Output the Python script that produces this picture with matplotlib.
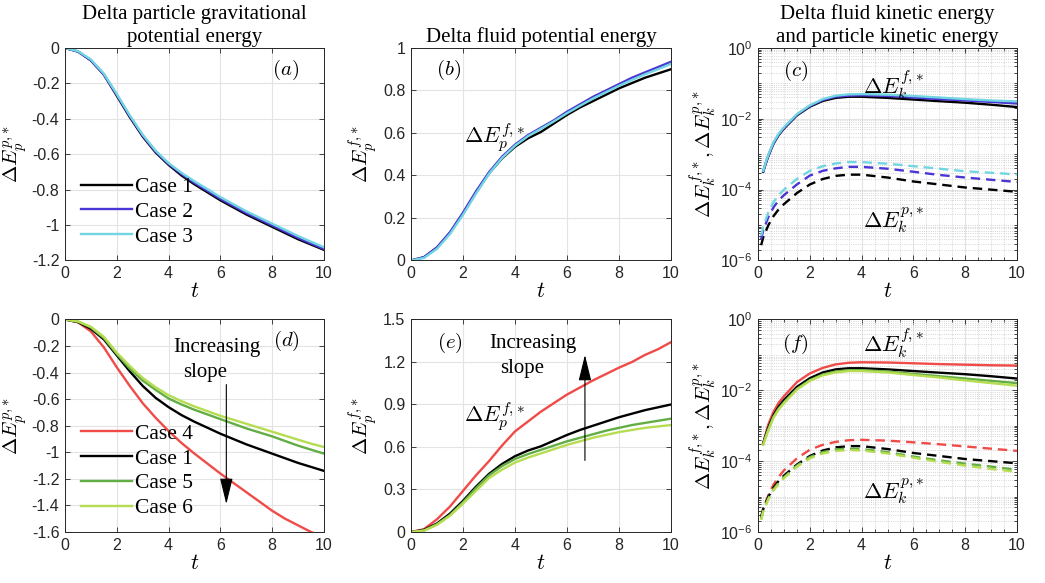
import matplotlib
matplotlib.use('Agg')
import matplotlib.pyplot as plt
from matplotlib.ticker import FixedLocator, MultipleLocator, LogLocator, FuncFormatter, NullFormatter
import numpy as np

plt.rcParams['mathtext.fontset'] = 'cm'
plt.rcParams['axes.unicode_minus'] = False

# ---- dados ----
t = [0, 0.5, 1, 1.5, 2, 2.5, 3, 3.5, 4, 4.5, 5, 5.5, 6, 6.5, 7, 7.5, 8, 8.5, 9, 9.5, 10]

# energia potencial gravitacional das particulas
ep_case1 = [0, -0.02, -0.07, -0.15, -0.27, -0.39, -0.50, -0.59, -0.66, -0.72, -0.77, -0.815,
            -0.86, -0.90, -0.94, -0.975, -1.01, -1.045, -1.08, -1.11, -1.14]
ep_case2 = [0, -0.02, -0.07, -0.15, -0.265, -0.385, -0.495, -0.585, -0.655, -0.712, -0.762, -0.807,
            -0.852, -0.892, -0.932, -0.967, -1.002, -1.037, -1.072, -1.104, -1.135]
ep_case3 = [0, -0.018, -0.065, -0.145, -0.26, -0.38, -0.49, -0.58, -0.65, -0.705, -0.753, -0.797,
            -0.842, -0.882, -0.922, -0.957, -0.992, -1.027, -1.062, -1.094, -1.125]
ep_case4 = [0, -0.02, -0.09, -0.21, -0.36, -0.50, -0.63, -0.74, -0.84, -0.93, -1.01, -1.085,
            -1.16, -1.23, -1.30, -1.37, -1.44, -1.50, -1.55, -1.60, -1.64]
ep_case5 = [0, -0.015, -0.06, -0.14, -0.26, -0.37, -0.46, -0.53, -0.595, -0.64, -0.68, -0.715,
            -0.75, -0.785, -0.82, -0.85, -0.88, -0.915, -0.95, -0.98, -1.01]
ep_case6 = [0, -0.015, -0.055, -0.13, -0.25, -0.35, -0.44, -0.51, -0.57, -0.615, -0.655, -0.69,
            -0.725, -0.755, -0.785, -0.815, -0.845, -0.875, -0.905, -0.935, -0.96]

# energia potencial do fluido
ef_case1 = [0, 0.015, 0.06, 0.13, 0.22, 0.32, 0.41, 0.48, 0.535, 0.575, 0.605, 0.645,
            0.685, 0.72, 0.75, 0.78, 0.81, 0.835, 0.86, 0.88, 0.90]
ef_case2 = [0, 0.016, 0.062, 0.133, 0.225, 0.325, 0.415, 0.488, 0.545, 0.59, 0.625, 0.66,
            0.70, 0.735, 0.77, 0.80, 0.83, 0.86, 0.885, 0.91, 0.935]
ef_case3 = [0, 0.012, 0.055, 0.125, 0.215, 0.315, 0.408, 0.482, 0.54, 0.585, 0.62, 0.655,
            0.693, 0.728, 0.762, 0.792, 0.822, 0.85, 0.876, 0.90, 0.925]
ef_case4 = [0, 0.02, 0.09, 0.18, 0.29, 0.40, 0.50, 0.61, 0.71, 0.78, 0.85, 0.91,
            0.97, 1.02, 1.07, 1.115, 1.16, 1.20, 1.25, 1.29, 1.34]
ef_case5 = [0, 0.01, 0.055, 0.12, 0.21, 0.31, 0.40, 0.465, 0.515, 0.55, 0.58, 0.61,
            0.64, 0.665, 0.69, 0.715, 0.735, 0.755, 0.77, 0.785, 0.80]
ef_case6 = [0, 0.01, 0.05, 0.115, 0.20, 0.29, 0.38, 0.44, 0.49, 0.525, 0.555, 0.585,
            0.615, 0.64, 0.665, 0.685, 0.705, 0.72, 0.735, 0.745, 0.755]

# energia cinetica (fluido: linha cheia, particula: tracejada)
tk_f = [0.2, 0.3, 0.4, 0.6, 0.8, 1, 1.5, 2, 2.5, 3, 3.5, 4, 5, 6, 7, 8, 9, 10]
tk_p = [0.12, 0.2, 0.4, 0.6, 0.8, 1, 1.5, 2, 2.5, 3, 3.5, 4, 5, 6, 7, 8, 9, 10]

ekf_case1 = [3.2e-4, 5.5e-4, 9e-4, 2e-3, 3.5e-3, 5.3e-3, 1.25e-2, 2.2e-2, 3.2e-2, 3.9e-2, 4.2e-2,
             4.2e-2, 3.9e-2, 3.5e-2, 3.15e-2, 2.85e-2, 2.5e-2, 2.15e-2]
ekf_case2 = [3.3e-4, 5.7e-4, 9.3e-4, 2.1e-3, 3.6e-3, 5.5e-3, 1.3e-2, 2.3e-2, 3.4e-2, 4.2e-2, 4.5e-2,
             4.6e-2, 4.4e-2, 4.0e-2, 3.6e-2, 3.3e-2, 3.0e-2, 2.7e-2]
ekf_case3 = [3.4e-4, 6e-4, 9.8e-4, 2.2e-3, 3.8e-3, 5.8e-3, 1.35e-2, 2.4e-2, 3.6e-2, 4.5e-2, 4.9e-2,
             5.0e-2, 4.8e-2, 4.4e-2, 4.0e-2, 3.6e-2, 3.3e-2, 3.1e-2]
ekf_case4 = [3.2e-4, 6e-4, 1.1e-3, 2.5e-3, 4.5e-3, 6.8e-3, 1.7e-2, 3.0e-2, 4.3e-2, 5.4e-2, 6.0e-2,
             6.2e-2, 6.1e-2, 5.8e-2, 5.5e-2, 5.3e-2, 5.1e-2, 5.0e-2]
ekf_case5 = [3e-4, 5e-4, 8e-4, 1.8e-3, 3.1e-3, 4.6e-3, 1.1e-2, 1.95e-2, 2.8e-2, 3.4e-2, 3.7e-2,
             3.7e-2, 3.4e-2, 2.9e-2, 2.5e-2, 2.15e-2, 1.85e-2, 1.6e-2]
ekf_case6 = [2.9e-4, 4.8e-4, 7.5e-4, 1.7e-3, 2.9e-3, 4.3e-3, 1.05e-2, 1.85e-2, 2.65e-2, 3.2e-2, 3.5e-2,
             3.5e-2, 3.2e-2, 2.7e-2, 2.3e-2, 1.9e-2, 1.6e-2, 1.35e-2]

ekp_case1 = [2.7e-6, 4.5e-6, 1e-5, 1.8e-5, 2.8e-5, 3.9e-5, 8e-5, 1.4e-4, 2.0e-4, 2.45e-4, 2.65e-4,
             2.65e-4, 2.2e-4, 1.7e-4, 1.4e-4, 1.15e-4, 1.0e-4, 8.7e-5]
ekp_case2 = [4e-6, 7e-6, 1.7e-5, 3.2e-5, 5e-5, 7e-5, 1.4e-4, 2.5e-4, 3.4e-4, 4e-4, 4.4e-4,
             4.4e-4, 3.9e-4, 3.2e-4, 2.6e-4, 2.2e-4, 1.9e-4, 1.65e-4]
ekp_case3 = [5e-6, 9e-6, 2.3e-5, 4.5e-5, 7e-5, 1e-4, 2e-4, 3.4e-4, 4.6e-4, 5.5e-4, 6e-4,
             6e-4, 5.4e-4, 4.6e-4, 3.9e-4, 3.3e-4, 3e-4, 2.7e-4]
ekp_case4 = [2.5e-6, 4.5e-6, 1.1e-5, 2.2e-5, 3.6e-5, 5.5e-5, 1.2e-4, 2.1e-4, 2.9e-4, 3.5e-4, 3.9e-4,
             4.0e-4, 3.8e-4, 3.4e-4, 3.0e-4, 2.6e-4, 2.25e-4, 1.95e-4]
ekp_case5 = [2.3e-6, 4e-6, 9e-6, 1.6e-5, 2.5e-5, 3.5e-5, 7.5e-5, 1.3e-4, 1.8e-4, 2.15e-4, 2.25e-4,
             2.2e-4, 1.8e-4, 1.35e-4, 1.05e-4, 8.5e-5, 7e-5, 5.7e-5]
ekp_case6 = [2.2e-6, 3.8e-6, 8.5e-6, 1.5e-5, 2.3e-5, 3.3e-5, 7e-5, 1.2e-4, 1.65e-4, 1.95e-4, 2.05e-4,
             2.0e-4, 1.65e-4, 1.25e-4, 9.5e-5, 7.5e-5, 6e-5, 5e-5]

cores = {1: 'black', 2: '#4a36d4', 3: '#72d5e2', 4: '#ef4b48', 5: '#63ae44', 6: '#b6dc52'}

LW = 1.7
SERIF = 'Liberation Serif'
SANS = 'Liberation Sans'
TXT = '#262626'

fig = plt.figure(figsize=(10.45, 5.83), dpi=100)

W = [0.0622, 0.3933, 0.7254]
larg = [0.2478, 0.2488, 0.2478]
B = [0.5532, 0.0875]
H = 0.3645

axes = {}
for r, linha in enumerate([['a', 'b', 'c'], ['d', 'e', 'f']]):
    for c, nome in enumerate(linha):
        axes[nome] = fig.add_axes([W[c], B[r], larg[c], H])


def estilo(ax, log=False):
    ax.set_xlim(0, 10)
    ax.xaxis.set_major_locator(MultipleLocator(2))
    ax.tick_params(direction='in', top=True, right=True, length=3.5, width=0.6,
                   labelsize=11.5, colors=TXT, pad=4)
    for lab in ax.get_xticklabels() + ax.get_yticklabels():
        lab.set_fontfamily(SANS)
    for s in ax.spines.values():
        s.set_color(TXT)
        s.set_linewidth(0.7)
    ax.grid(True, which='major', color='#e3e3e3', lw=0.8)
    ax.set_axisbelow(True)
    ax.set_xlabel(r'$t$', fontsize=16, labelpad=0)
    if log:
        ax.set_yscale('log')
        ax.set_ylim(1e-6, 1)
        ax.yaxis.set_major_locator(FixedLocator([1e-6, 1e-4, 1e-2, 1]))
        ax.yaxis.set_minor_locator(LogLocator(base=10, subs=np.arange(1, 10), numticks=20))
        ax.yaxis.set_major_formatter(FuncFormatter(
            lambda v, p: r'$\mathregular{10^{%d}}$' % int(round(np.log10(v)))))
        ax.yaxis.set_minor_formatter(NullFormatter())
        ax.xaxis.set_minor_locator(MultipleLocator(0.5))
        ax.tick_params(which='minor', direction='in', top=True, right=True, length=2, width=0.5)
        ax.grid(True, which='minor', color='#c8c8c8', lw=0.6, ls=':')
        ax.set_ylabel(r'$\Delta E_k^{f,\!*}, \Delta E_k^{p,\!*}$', fontsize=15, labelpad=0)
        for lab in ax.get_yticklabels():
            lab.set_fontfamily(SANS)


def legenda(ax, y0):
    ax.legend(loc='lower left', bbox_to_anchor=(0.06, y0), frameon=False,
              prop={'family': SERIF, 'size': 15.5}, handlelength=2.4, handletextpad=0.15,
              labelspacing=0.22, borderaxespad=0, borderpad=0)


# (a)
ax = axes['a']
ax.plot(t, ep_case1, color=cores[1], lw=LW, label='Case 1')
ax.plot(t, ep_case2, color=cores[2], lw=LW, label='Case 2')
ax.plot(t, ep_case3, color=cores[3], lw=LW, label='Case 3')
ax.set_ylim(-1.2, 0)
ax.yaxis.set_major_locator(MultipleLocator(0.2))
ax.yaxis.set_major_formatter(FuncFormatter(lambda v, p: '0' if abs(v) < 1e-9 else ('%g' % round(v, 1))))
estilo(ax)
ax.set_ylabel(r'$\Delta E_p^{p,\!*}$', fontsize=15, labelpad=2)
ax.text(8.5, -0.125, r'$(a)$', fontsize=15, ha='center', va='center')
legenda(ax, 0.065)
ax.set_title('Delta particle gravitational\npotential energy', fontfamily=SERIF, fontsize=15,
             pad=4, linespacing=1.3)

# (b)
ax = axes['b']
ax.plot(t, ef_case1, color=cores[1], lw=LW)
ax.plot(t, ef_case2, color=cores[2], lw=LW)
ax.plot(t, ef_case3, color=cores[3], lw=LW)
ax.set_ylim(0, 1)
ax.yaxis.set_major_locator(MultipleLocator(0.2))
ax.yaxis.set_major_formatter(FuncFormatter(lambda v, p: '%g' % round(v, 1)))
estilo(ax)
ax.set_ylabel(r'$\Delta E_p^{f,\!*}$', fontsize=15, labelpad=2)
ax.text(1.46, 0.895, r'$(b)$', fontsize=15, ha='center', va='center')
ax.text(2.05, 0.58, r'$\Delta E_p^{f,\!*}$', fontsize=16, ha='left', va='center')
ax.set_title('Delta fluid potential energy', fontfamily=SERIF, fontsize=15, pad=4)

# (c)
ax = axes['c']
for k, ys in [(1, ekf_case1), (2, ekf_case2), (3, ekf_case3)]:
    ax.plot(tk_f, ys, color=cores[k], lw=LW)
for k, ys in [(1, ekp_case1), (2, ekp_case2), (3, ekp_case3)]:
    ax.plot(tk_p, ys, color=cores[k], lw=LW, ls=(0, (4, 2.5)))
estilo(ax, log=True)
ax.text(1.44, 0.23, r'$(c)$', fontsize=15, ha='center', va='center')
ax.text(4.04, 0.09, r'$\Delta E_k^{f,\!*}$', fontsize=16, ha='left', va='center')
ax.text(4.04, 1.4e-5, r'$\Delta E_k^{p,\!*}$', fontsize=16, ha='left', va='center')
ax.set_title('Delta fluid kinetic energy\nand particle kinetic energy', fontfamily=SERIF,
             fontsize=15, pad=4, linespacing=1.3)

# (d)
ax = axes['d']
ax.plot(t, ep_case4, color=cores[4], lw=LW, label='Case 4')
ax.plot(t, ep_case1, color=cores[1], lw=LW, label='Case 1')
ax.plot(t, ep_case5, color=cores[5], lw=LW, label='Case 5')
ax.plot(t, ep_case6, color=cores[6], lw=LW, label='Case 6')
ax.set_ylim(-1.6, 0)
ax.yaxis.set_major_locator(MultipleLocator(0.2))
ax.yaxis.set_major_formatter(FuncFormatter(lambda v, p: '0' if abs(v) < 1e-9 else ('%g' % round(v, 1))))
estilo(ax)
ax.set_ylabel(r'$\Delta E_p^{p,\!*}$', fontsize=15, labelpad=2)
ax.text(8.55, -0.16, r'$(d)$', fontsize=15, ha='center', va='center')
ax.text(5.85, -0.21, 'Increasing', fontfamily=SERIF, fontsize=15, ha='center', va='center')
ax.text(5.4, -0.40, 'slope', fontfamily=SERIF, fontsize=15, ha='center', va='center')
ax.annotate('', xy=(6.23, -1.39), xytext=(6.23, -0.49),
            arrowprops=dict(arrowstyle='-|>,head_length=0.9,head_width=0.22', color='black',
                            lw=0.8, mutation_scale=18, shrinkA=0, shrinkB=0))
legenda(ax, 0.065)

# (e)
ax = axes['e']
ax.plot(t, ef_case4, color=cores[4], lw=LW)
ax.plot(t, ef_case1, color=cores[1], lw=LW)
ax.plot(t, ef_case5, color=cores[5], lw=LW)
ax.plot(t, ef_case6, color=cores[6], lw=LW)
ax.set_ylim(0, 1.5)
ax.yaxis.set_major_locator(MultipleLocator(0.3))
ax.yaxis.set_major_formatter(FuncFormatter(lambda v, p: '%g' % round(v, 1)))
estilo(ax)
ax.set_ylabel(r'$\Delta E_p^{f,\!*}$', fontsize=15, labelpad=2)
ax.text(1.5, 1.335, r'$(e)$', fontsize=15, ha='center', va='center')
ax.text(2.05, 0.815, r'$\Delta E_p^{f,\!*}$', fontsize=16, ha='left', va='center')
ax.text(4.67, 1.33, 'Increasing', fontfamily=SERIF, fontsize=15, ha='center', va='center')
ax.text(4.26, 1.155, 'slope', fontfamily=SERIF, fontsize=15, ha='center', va='center')
ax.annotate('', xy=(6.69, 1.25), xytext=(6.69, 0.505),
            arrowprops=dict(arrowstyle='-|>,head_length=0.9,head_width=0.22', color='black',
                            lw=0.8, mutation_scale=18, shrinkA=0, shrinkB=0))

# (f)
ax = axes['f']
for k, ys in [(4, ekf_case4), (1, ekf_case1), (5, ekf_case5), (6, ekf_case6)]:
    ax.plot(tk_f, ys, color=cores[k], lw=LW)
for k, ys in [(4, ekp_case4), (1, ekp_case1), (5, ekp_case5), (6, ekp_case6)]:
    ax.plot(tk_p, ys, color=cores[k], lw=LW, ls=(0, (4, 2.5)))
estilo(ax, log=True)
ax.text(1.44, 0.21, r'$(f)$', fontsize=15, ha='center', va='center')
ax.text(4.04, 0.21, r'$\Delta E_k^{f,\!*}$', fontsize=16, ha='left', va='center')
ax.text(4.04, 1.4e-5, r'$\Delta E_k^{p,\!*}$', fontsize=16, ha='left', va='center')

fig.savefig('out.png', dpi=100)
